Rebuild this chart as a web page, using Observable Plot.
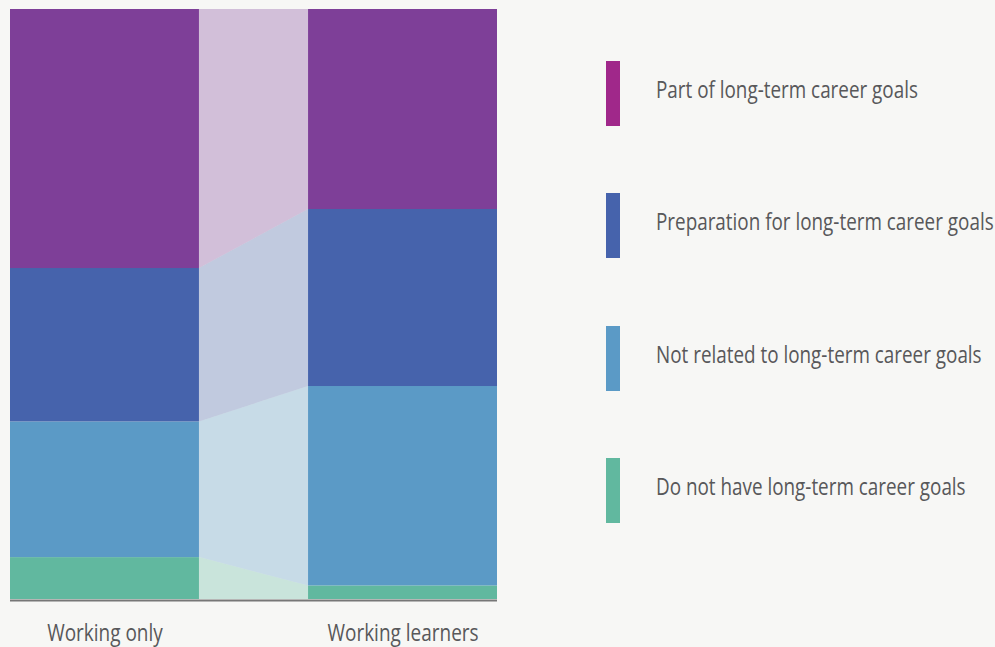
<!DOCTYPE html>
<html>
<head>
<meta charset="utf-8">
<script src="https://cdn.jsdelivr.net/npm/d3@7"></script>
<script src="https://cdn.jsdelivr.net/npm/@observablehq/plot@0.6"></script>
<style>
  html, body { margin: 0; padding: 0; background: #f7f7f5; }
  #wrap { position: relative; width: 995px; height: 647px; overflow: hidden; }
  #chart { position: absolute; left: 0; top: 0; }
  .lg-sw { position: absolute; width: 14px; height: 65px; }
  .lg-tx { position: absolute; font-family: "Open Sans", sans-serif; font-size: 23px; color: #58585a; white-space: nowrap; line-height: 1; transform: scaleX(0.82); transform-origin: 0 0; }
</style>
</head>
<body>
<div id="wrap"><div id="chart"></div><div id="legend"></div></div>
<script>
const groups = ["Working only", "Working learners"];
const categories = [
  "Part of long-term career goals",
  "Preparation for long-term career goals",
  "Not related to long-term career goals",
  "Do not have long-term career goals"
];
// percentages, listed in category order (top of stack first)
const workingOnly = [43.9, 26.0, 23.0, 7.1];
const workingLearners = [33.9, 30.0, 33.8, 2.3];
const barColors = ["#7e3f98", "#4663ac", "#5b9ac6", "#61b89f"];
const legendColors = ["#a0288a", "#4663ac", "#5b9ac6", "#61b89f"];

const seriesByGroup = [workingOnly, workingLearners];
const HW = 0.317; // half bar width in x units
const TEXT_SCALE = 0.825;

const rows = [];
groups.forEach((g, gi) => {
  let acc = 0;
  for (let k = categories.length - 1; k >= 0; k--) {
    const v = seriesByGroup[gi][k];
    rows.push({group: g, gi, category: categories[k], y1: acc, y2: acc + v});
    acc += v;
  }
});
const conn = [];
rows.forEach(r => {
  conn.push({category: r.category, x: r.gi === 0 ? r.gi + HW : r.gi - HW, y1: r.y1, y2: r.y2});
});

const plot = Plot.plot({
  width: 540,
  height: 647,
  marginLeft: 10,
  marginRight: 43,
  marginTop: 9,
  marginBottom: 48,
  style: {background: "transparent", fontFamily: '"Open Sans", sans-serif', fontSize: "23px", color: "#58585a"},
  x: {domain: [-HW, 1 + HW], axis: null},
  y: {domain: [0, 100], axis: null},
  color: {domain: categories, range: barColors},
  marks: [
    Plot.areaY(conn, {x: "x", y1: "y1", y2: "y2", z: "category", fill: "category", fillOpacity: 0.3, curve: "linear"}),
    Plot.rect(rows, {x1: d => d.gi - HW, x2: d => d.gi + HW, y1: "y1", y2: "y2", fill: "category"}),
    Plot.ruleY([0], {stroke: "#777", strokeWidth: 2, dy: 1}),
    Plot.axisX({ticks: [0, 1], tickFormat: i => groups[i], tickSize: 0, tickPadding: 25, fontSize: 23, fill: "#58585a", label: null})
  ]
});
plot.querySelectorAll("g[aria-label='x-axis tick label'] text").forEach(t => {
  const tr = t.getAttribute("transform") || "";
  t.setAttribute("transform", tr + ` scale(${TEXT_SCALE} 1)`);
});
document.getElementById("chart").appendChild(plot);

const legend = document.getElementById("legend");
categories.forEach((c, i) => {
  const sw = document.createElement("div");
  sw.className = "lg-sw";
  sw.style.left = "606px";
  sw.style.top = (61 + i * 132.3) + "px";
  sw.style.background = legendColors[i];
  legend.appendChild(sw);
  const tx = document.createElement("div");
  tx.className = "lg-tx";
  tx.style.left = "656px";
  tx.style.top = (78 + i * 132.3) + "px";
  tx.textContent = c;
  legend.appendChild(tx);
});
</script>
</body>
</html>
